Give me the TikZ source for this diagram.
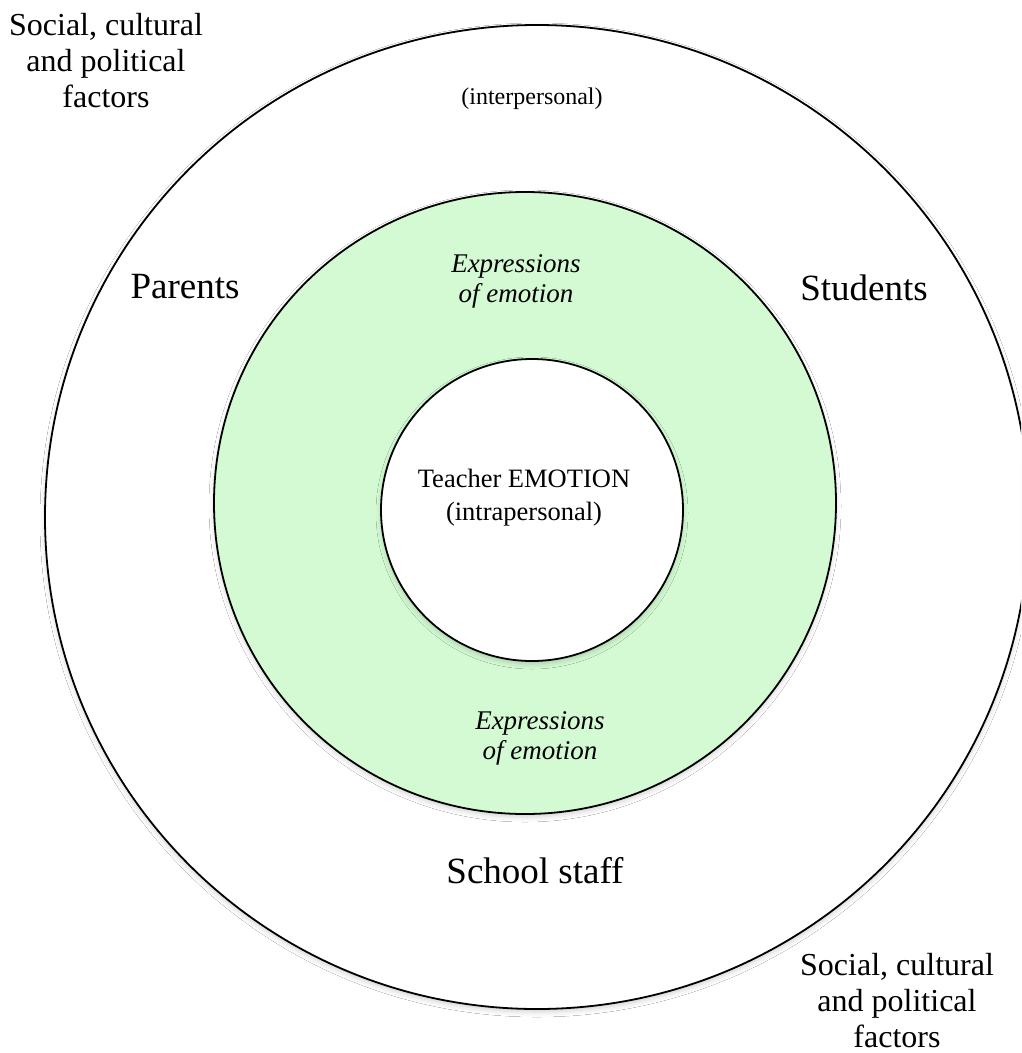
\documentclass[tikz,border=0pt]{standalone}
\usepackage{fontspec}
\setmainfont{Liberation Serif}
\usetikzlibrary{shadows.blur}
\definecolor{ringgreen}{RGB}{211,250,211}
\tikzset{
  ring/.style={circle, draw=black, line width=1.8pt, inner sep=0pt,
    blur shadow={shadow xshift=0pt, shadow yshift=-3pt, shadow blur radius=5pt, shadow opacity=18}},
  bigtxt/.style={font=\fontsize{37}{40}\selectfont, align=center, inner sep=0pt},
  cornertxt/.style={font=\fontsize{32}{36}\selectfont, align=center, inner sep=0pt},
  midtxt/.style={font=\fontsize{24}{31}\selectfont, align=center, inner sep=0pt},
  teachtxt/.style={font=\fontsize{26.5}{33}\selectfont, align=center, inner sep=0pt},
  exptxt/.style={font=\fontsize{27}{30}\selectfont\itshape, align=center, inner sep=0pt},
}
\begin{document}
\begin{tikzpicture}[x=1pt,y=-1pt]
\useasboundingbox (0,0) rectangle (1021,1053);
\fill[white] (0,0) rectangle (1021,1053);
\begin{scope}
\clip (0,0) rectangle (1021,1053);
\node[ring, fill=white, minimum size=984pt] (outer) at (537,517) {};
\end{scope}
\node[ring, fill=ringgreen, minimum size=622pt] (green) at (525,503) {};
\node[ring, fill=white, minimum size=302pt] (inner) at (532,510) {};

\node[midtxt, anchor=base] (inter) at (532,104) {(interpersonal)};
\node[bigtxt, anchor=base] (parents) at (185,298) {Parents};
\node[bigtxt, anchor=base] (students) at (864,300) {Students};
\node[bigtxt, anchor=base] (staff) at (535,883) {School staff};
\node[teachtxt] (teacher) at (524,498) {Teacher EMOTION\\(intrapersonal)};
\node[exptxt] (exptop) at (516,281) {Expressions\\of emotion};
\node[exptxt] (expbot) at (540,738) {Expressions\\of emotion};
\node[cornertxt] (socTL) at (106,61) {Social, cultural\\and political\\factors};
\node[cornertxt] (socBR) at (897,1001) {Social, cultural\\and political\\factors};
\end{tikzpicture}
\end{document}
